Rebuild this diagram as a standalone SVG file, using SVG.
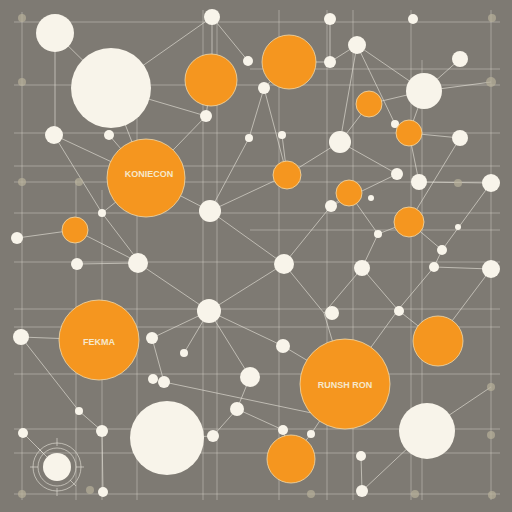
<svg xmlns="http://www.w3.org/2000/svg" width="512" height="512" viewBox="0 0 512 512">
<style>
.g{stroke:#d9d5cc;stroke-width:1;opacity:0.45;fill:none}
.c{stroke:#e6e2d8;stroke-width:0.9;opacity:0.7;fill:none}
.w{fill:#f8f4ea}
.o{fill:#f5961f;stroke:#f3d9a8;stroke-width:0.8}
.d{fill:#b8b09a;opacity:0.7}
.t{font-family:"Liberation Sans",Arial,sans-serif;font-size:9px;font-weight:bold;fill:#f6e8cc;text-anchor:middle}
</style>
<rect width="512" height="512" fill="#7e7a73"/>
<g id="grid">
<path class="g" d="M22 12V500M76 180V500M102 190V500M137 60V500M203 10V500M217 10V500M279 10V500M327 10V500M353 10V500M411 10V500M422 60V500M491 10V500M14 22H500M14 85H500M14 133H500M250 69H500M14 166H500M14 182H500M14 213H500M250 230H500M14 262H500M14 309H500M14 327H500M14 374H500M14 429H500M14 453H500M14 494H500"/>
</g>
<g id="connectors" class="c">
<path d="M55 33L111 88M55 33V135M111 88L146 178M111 88L206 116M111 88L212 17M212 17V80M212 17L248 61M211 80L206 116M206 116L146 178M54 135L146 178M54 135L102 213M109 135L146 178M146 178L210 211M146 178L102 213M75 230L17 238M75 230L140 263M102 213L140 263M210 211L287 175M210 211L284 264M210 211L249 138M249 138L264 88M289 62L264 88M289 62L330 62M330 19V62M357 45L424 91M357 45L330 62M357 45L395 124M357 45L340 142M424 91L460 59M424 91L369 104M424 91L409 133M424 91L491 82M287 175L340 142M287 175L264 88M287 175L282 135M340 142L397 174M340 142L369 104M397 174L331 206M349 193L331 206M349 193L378 234M409 133L419 182M409 133L460 138M419 182L491 183M491 183L442 250M460 138L409 222M409 222L442 250M409 222L378 234M331 206L284 264M378 234L362 268M442 250L434 267M434 267L491 269M138 263L209 311M138 263L77 264M209 311L283 346M209 311L152 338M209 311L250 377M209 311L184 353M284 264L209 311M284 264L324 313M21 337L99 340M21 337L79 411L102 431M152 338L164 382M250 377L237 409L213 436M164 382L345 420M345 383L324 313M345 383L398 310M345 383L283 346M437 341L398 310M362 268L398 310M324 313L362 268M398 310L434 267M437 341L491 269M427 430L491 387M291 459L311 434M362 491L427 430M311 434L345 383M361 456L362 491M283 430L291 459M23 433L57 467M102 431L103 492M213 436L167 438M237 409L283 430"/>
</g>
<g id="halo"><circle cx="57" cy="467" r="24" class="c"/><circle cx="57" cy="467" r="19" class="c"/><path class="c" d="M57 438V446M57 488V496M30 467H38M76 467H84M38 448L44 454M70 480L76 486"/></g>
<g id="dim">
<circle class="d" cx="22" cy="18" r="4"/><circle class="d" cx="22" cy="82" r="4"/><circle class="d" cx="22" cy="182" r="4"/><circle class="d" cx="79" cy="182" r="4"/><circle class="d" cx="492" cy="18" r="4"/><circle class="d" cx="491" cy="82" r="5"/><circle class="d" cx="458" cy="183" r="4"/><circle class="d" cx="90" cy="490" r="4"/><circle class="d" cx="22" cy="494" r="4"/><circle class="d" cx="415" cy="494" r="4"/><circle class="d" cx="492" cy="495" r="4"/><circle class="d" cx="491" cy="387" r="4"/><circle class="d" cx="491" cy="435" r="4"/><circle class="d" cx="311" cy="494" r="4"/>
</g>
<g id="n1"><circle class="w" cx="55" cy="33" r="19"/></g>
<g id="n2"><circle class="w" cx="111" cy="88" r="40"/></g>
<g id="n3"><circle class="o" cx="211" cy="80" r="26"/></g>
<g id="n4"><circle class="w" cx="212" cy="17" r="8"/></g>
<g id="n5"><circle class="o" cx="146" cy="178" r="39"/><text class="t" x="149" y="177">KONIECON</text></g>
<g id="n6"><circle class="w" cx="54" cy="135" r="9"/></g>
<g id="n7"><circle class="w" cx="210" cy="211" r="11"/></g>
<g id="n8"><circle class="o" cx="75" cy="230" r="13"/></g>
<g id="n9"><circle class="w" cx="206" cy="116" r="6"/></g>
<g id="n10"><circle class="w" cx="109" cy="135" r="5"/></g>
<g id="n11"><circle class="w" cx="248" cy="61" r="5"/></g>
<g id="n12"><circle class="w" cx="249" cy="138" r="4"/></g>
<g id="n13"><circle class="w" cx="17" cy="238" r="6"/></g>
<g id="n14"><circle class="w" cx="102" cy="213" r="4"/></g>
<g id="n15"><circle class="o" cx="289" cy="62" r="27"/></g>
<g id="n16"><circle class="w" cx="330" cy="19" r="6"/></g>
<g id="n17"><circle class="w" cx="413" cy="19" r="5"/></g>
<g id="n18"><circle class="w" cx="357" cy="45" r="9"/></g>
<g id="n19"><circle class="w" cx="330" cy="62" r="6"/></g>
<g id="n20"><circle class="w" cx="460" cy="59" r="8"/></g>
<g id="n21"><circle class="w" cx="424" cy="91" r="18"/></g>
<g id="n22"><circle class="w" cx="264" cy="88" r="6"/></g>
<g id="n23"><circle class="o" cx="369" cy="104" r="13"/></g>
<g id="n24"><circle class="w" cx="395" cy="124" r="4"/></g>
<g id="n25"><circle class="o" cx="409" cy="133" r="13"/></g>
<g id="n26"><circle class="w" cx="340" cy="142" r="11"/></g>
<g id="n27"><circle class="w" cx="282" cy="135" r="4"/></g>
<g id="n28"><circle class="w" cx="460" cy="138" r="8"/></g>
<g id="n29"><circle class="o" cx="287" cy="175" r="14"/></g>
<g id="n30"><circle class="w" cx="397" cy="174" r="6"/></g>
<g id="n31"><circle class="w" cx="419" cy="182" r="8"/></g>
<g id="n32"><circle class="w" cx="491" cy="183" r="9"/></g>
<g id="n33"><circle class="o" cx="349" cy="193" r="13"/></g>
<g id="n34"><circle class="w" cx="331" cy="206" r="6"/></g>
<g id="n35"><circle class="w" cx="371" cy="198" r="3"/></g>
<g id="n36"><circle class="o" cx="409" cy="222" r="15"/></g>
<g id="n37"><circle class="w" cx="378" cy="234" r="4"/></g>
<g id="n38"><circle class="w" cx="458" cy="227" r="3"/></g>
<g id="n39"><circle class="w" cx="442" cy="250" r="5"/></g>
<g id="n40"><circle class="w" cx="77" cy="264" r="6"/></g>
<g id="n41"><circle class="w" cx="138" cy="263" r="10"/></g>
<g id="n42"><circle class="o" cx="99" cy="340" r="40"/><text class="t" x="99" y="345">FEKMA</text></g>
<g id="n43"><circle class="w" cx="21" cy="337" r="8"/></g>
<g id="n44"><circle class="w" cx="209" cy="311" r="12"/></g>
<g id="n45"><circle class="w" cx="152" cy="338" r="6"/></g>
<g id="n46"><circle class="w" cx="184" cy="353" r="4"/></g>
<g id="n47"><circle class="w" cx="153" cy="379" r="5"/></g>
<g id="n48"><circle class="w" cx="164" cy="382" r="6"/></g>
<g id="n49"><circle class="w" cx="167" cy="438" r="37"/></g>
<g id="n50"><circle class="w" cx="250" cy="377" r="10"/></g>
<g id="n51"><circle class="w" cx="237" cy="409" r="7"/></g>
<g id="n52"><circle class="w" cx="213" cy="436" r="6"/></g>
<g id="n53"><circle class="w" cx="102" cy="431" r="6"/></g>
<g id="n54"><circle class="w" cx="23" cy="433" r="5"/></g>
<g id="n55"><circle class="w" cx="79" cy="411" r="4"/></g>
<g id="n56"><circle class="w" cx="57" cy="467" r="14"/></g>
<g id="n57"><circle class="w" cx="103" cy="492" r="5"/></g>
<g id="n58"><circle class="w" cx="284" cy="264" r="10"/></g>
<g id="n59"><circle class="w" cx="362" cy="268" r="8"/></g>
<g id="n60"><circle class="w" cx="434" cy="267" r="5"/></g>
<g id="n61"><circle class="w" cx="491" cy="269" r="9"/></g>
<g id="n62"><circle class="w" cx="332" cy="313" r="7"/></g>
<g id="n63"><circle class="w" cx="399" cy="311" r="5"/></g>
<g id="n64"><circle class="o" cx="438" cy="341" r="25"/></g>
<g id="n65"><circle class="o" cx="345" cy="384" r="45"/><text class="t" x="345" y="388">RUNSH RON</text></g>
<g id="n66"><circle class="w" cx="283" cy="346" r="7"/></g>
<g id="n67"><circle class="w" cx="427" cy="431" r="28"/></g>
<g id="n68"><circle class="w" cx="283" cy="430" r="5"/></g>
<g id="n69"><circle class="o" cx="291" cy="459" r="24"/></g>
<g id="n70"><circle class="w" cx="361" cy="456" r="5"/></g>
<g id="n71"><circle class="w" cx="362" cy="491" r="6"/></g>
<g id="n72"><circle class="w" cx="311" cy="434" r="4"/></g>
</svg>
